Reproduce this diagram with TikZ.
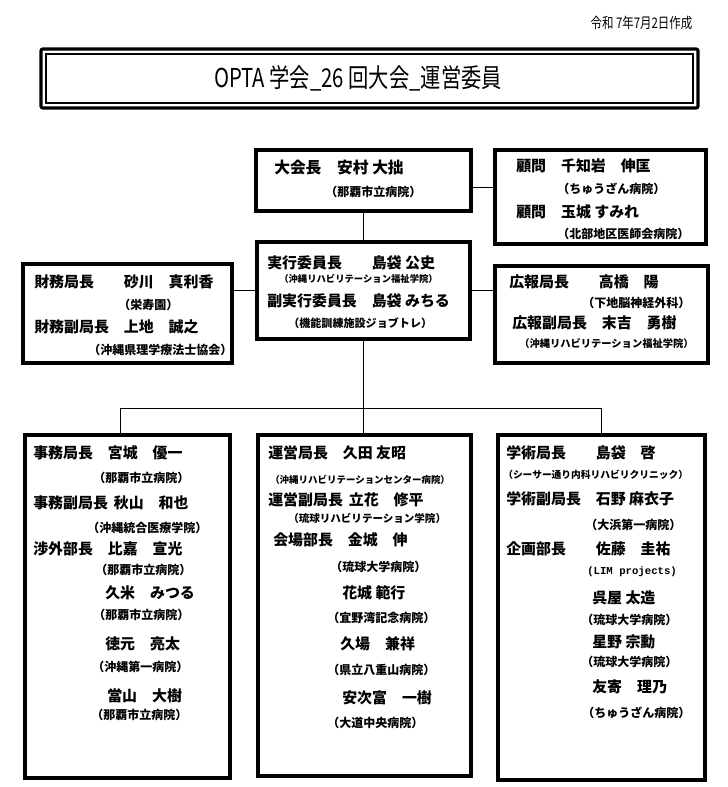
\documentclass[tikz,border=0pt]{standalone}
\usepackage{fontspec}
\setmainfont{Noto Sans CJK JP}
\newfontfamily\narrowjp[FakeStretch=0.78]{Noto Sans CJK JP}
\newfontfamily\monolat{Liberation Mono}
\usetikzlibrary{fit}

\begin{document}
\begin{tikzpicture}[x=0.75pt,y=0.75pt,yscale=-1,xscale=1,
  panel/.style={draw, line width=3pt, inner sep=0pt},
  lowpanel/.style={draw, line width=2.6pt, inner sep=0pt},
  wire/.style={line width=0.75pt},
  who/.style={anchor=west, inner sep=0pt, font=\fontsize{11.2}{13}\selectfont\bfseries},
  org/.style={anchor=west, inner sep=0pt, font=\fontsize{9}{11}\selectfont\bfseries},
  orgsm/.style={anchor=west, inner sep=0pt, font=\fontsize{7.3}{9}\selectfont\bfseries}]
\useasboundingbox (0,0) rectangle (727,787);

%Shape: Rectangle [title frame]
\node [draw, line width=2.4pt, rounded corners=1.5pt, inner sep=0pt, fit={(41,49) (698,108)}] (frame) {};
\node [draw, line width=0.8pt, inner sep=0pt, fit={(46,54) (693,103)}] (frameIn) {};
% Text Node
\draw (358,78) node [font=\narrowjp\fontsize{19.5}{22}\selectfont] (title) {OPTA 学会\_26 回大会\_運営委員};
% Text Node
\draw (697,23) node [anchor=east, font=\narrowjp\fontsize{11}{12}\selectfont] (date) {令和 7年7月2日作成};

%Shape: Rectangle [president]
\node [panel, fit={(256,150) (471,211)}] (pres) {};
%Shape: Rectangle [advisers]
\node [panel, fit={(495,150) (706,244)}] (adv) {};
%Shape: Rectangle [executive]
\node [panel, fit={(257,242) (470,339)}] (exec) {};
%Shape: Rectangle [finance]
\node [panel, fit={(23,264) (232,363)}] (fin) {};
%Shape: Rectangle [public relations]
\node [panel, fit={(495,266) (708,363)}] (pr) {};
%Shape: Rectangle [general affairs]
\node [lowpanel, fit={(25,435) (230,778)}] (genl) {};
%Shape: Rectangle [operations]
\node [lowpanel, fit={(258,435) (471,776)}] (ops) {};
%Shape: Rectangle [academic]
\node [lowpanel, fit={(498,435) (705,780)}] (acad) {};

%Straight Lines
\draw [wire] ([yshift=5pt]pres.east) -- ([yshift=5pt]pres.east -| adv.west);
\draw [wire] (pres) -- (exec);
\draw [wire] (exec.west) -- (exec.west -| fin.east);
\draw [wire] (exec.east) -- (exec.east -| pr.west);
\draw [wire] (exec.south) -- (exec.south |- ops.north);
\draw [wire] ([xshift=-5pt]genl.north) -- ++(0,-25) -| (acad.north);

% Text Node
\draw (274,168) node [who, font=\fontsize{11.8}{13}\selectfont\bfseries] (presN) {大会長　安村 大拙};
% Text Node
\draw (325,192) node [org] (presO) {（那覇市立病院）};
% Text Node
\draw (516,166) node [who] (advN1) {顧問　千知岩　伸匡};
% Text Node
\draw (557,189) node [org] (advO1) {（ちゅうざん病院）};
% Text Node
\draw (516,212) node [who] (advN2) {顧問　玉城 すみれ};
% Text Node
\draw (557,234) node [org] (advO2) {（北部地区医師会病院）};

% Text Node
\draw (267,263) node [who] (execN1) {実行委員長　　島袋 公史};
% Text Node
\draw (279,279) node [orgsm, font=\fontsize{7}{9}\selectfont\bfseries] (execO1) {（沖縄リハビリテーション福祉学院）};
% Text Node
\draw (267,301) node [who] (execN2) {副実行委員長　島袋 みちる};
% Text Node
\draw (288,323) node [org, font=\fontsize{8.3}{10}\selectfont\bfseries] (execO2) {（機能訓練施設ジョブトレ）};

% Text Node
\draw (34,282) node [who] (finN1) {財務局長　　砂川　真利香};
% Text Node
\draw (118,305) node [org] (finO1) {（栄寿園）};
% Text Node
\draw (34,327) node [who] (finN2) {財務副局長　上地　誠之};
% Text Node
\draw (88,350) node [org] (finO2) {（沖縄県理学療法士協会）};

% Text Node
\draw (509,282) node [who] (prN1) {広報局長　　高橋　陽};
% Text Node
\draw (582,303) node [org] (prO1) {（下地脳神経外科）};
% Text Node
\draw (512,323) node [who] (prN2) {広報副局長　末吉　勇樹};
% Text Node
\draw (519,344) node [orgsm, font=\fontsize{7.7}{9}\selectfont\bfseries] (prO2) {（沖縄リハビリテーション福祉学院）};

% Text Node
\draw (33,453) node [who] (genlN1) {事務局長　宮城　優一};
% Text Node
\draw (93,478) node [org] (genlO1) {（那覇市立病院）};
% Text Node
\draw (33,503) node [who] (genlN2) {事務副局長\hspace{0.4em}秋山　和也};
% Text Node
\draw (87,528) node [org] (genlO2) {（沖縄統合医療学院）};
% Text Node
\draw (33,549) node [who] (genlN3) {渉外部長　比嘉　宣光};
% Text Node
\draw (95,570) node [org] (genlO3) {（那覇市立病院）};
% Text Node
\draw (105,593) node [who] (genlN4) {久米　みつる};
% Text Node
\draw (93,615) node [org] (genlO4) {（那覇市立病院）};
% Text Node
\draw (105,644) node [who] (genlN5) {徳元　亮太};
% Text Node
\draw (92,667) node [org] (genlO5) {（沖縄第一病院）};
% Text Node
\draw (107,696) node [who] (genlN6) {當山　大樹};
% Text Node
\draw (91,715) node [org] (genlO6) {（那覇市立病院）};

% Text Node
\draw (268,453) node [who] (opsN1) {運営局長　久田 友昭};
% Text Node
\draw (270,480) node [orgsm, font=\fontsize{7.1}{9}\selectfont\bfseries] (opsO1) {（沖縄リハビリテーションセンター病院）};
% Text Node
\draw (268,500) node [who] (opsN2) {運営副局長\hspace{0.4em}立花　修平};
% Text Node
\draw (288,518) node [orgsm, font=\fontsize{7.9}{9}\selectfont\bfseries] (opsO2) {（琉球リハビリテーション学院）};
% Text Node
\draw (273,540) node [who] (opsN3) {会場部長　金城　伸};
% Text Node
\draw (330,567) node [org] (opsO3) {（琉球大学病院）};
% Text Node
\draw (342,593) node [who] (opsN4) {花城 範行};
% Text Node
\draw (327,618) node [org] (opsO4) {（宜野湾記念病院）};
% Text Node
\draw (340,644) node [who] (opsN5) {久場　兼祥};
% Text Node
\draw (327,670) node [org] (opsO5) {（県立八重山病院）};
% Text Node
\draw (342,698) node [who] (opsN6) {安次富　一樹};
% Text Node
\draw (327,723) node [org] (opsO6) {（大道中央病院）};

% Text Node
\draw (506,453) node [who] (acadN1) {学術局長　　島袋　啓};
% Text Node
\draw (503,475) node [orgsm] (acadO1) {（シーサー通り内科リハビリクリニック）};
% Text Node
\draw (506,499) node [who] (acadN2) {学術副局長　石野 麻衣子};
% Text Node
\draw (585,525) node [org] (acadO2) {（大浜第一病院）};
% Text Node
\draw (506,549) node [who] (acadN3) {企画部長　　佐藤　圭祐};
% Text Node
\draw (587,572) node [org, font=\monolat\fontsize{8}{10}\selectfont\bfseries] (acadO3) {(LIM projects)};
% Text Node
\draw (592,598) node [who] (acadN4) {呉屋 太造};
% Text Node
\draw (581,620) node [org] (acadO4) {（琉球大学病院）};
% Text Node
\draw (592,642) node [who] (acadN5) {星野 宗勳};
% Text Node
\draw (581,662) node [org] (acadO5) {（琉球大学病院）};
% Text Node
\draw (592,687) node [who] (acadN6) {友寄　理乃};
% Text Node
\draw (582,713) node [org] (acadO6) {（ちゅうざん病院）};

\end{tikzpicture}
\end{document}
